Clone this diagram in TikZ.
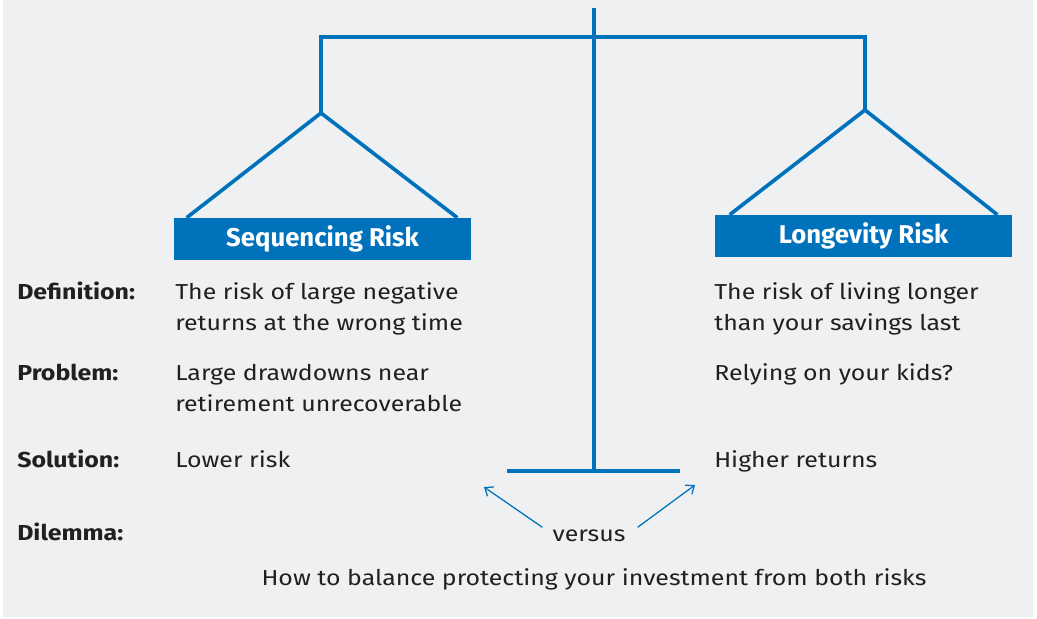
\documentclass[tikz,border=0pt]{standalone}
\usepackage{fontspec}
\setmainfont{Fira Sans}[FakeStretch=1.15]
\newfontfamily\headfont{Fira Sans}
\usetikzlibrary{arrows.meta, positioning, calc}
\definecolor{myblue}{RGB}{0,114,188}
\definecolor{mybg}{RGB}{239,240,242}
\definecolor{mytext}{RGB}{35,31,32}
\tikzset{
  beam/.style={draw=myblue, line width=2.6pt},
  riskbox/.style={rectangle, fill=myblue, text=white,
    minimum width=7.425cm, minimum height=1.05cm, inner sep=0pt,
    font=\headfont\bfseries\fontsize{18.3}{20}\selectfont},
  rowlabel/.style={anchor=base west, inner sep=0pt, text=mytext,
    font=\bfseries\fontsize{15.4}{22}\selectfont},
  bodytext/.style={anchor=base west, inner sep=0pt, text=mytext, align=left,
    font=\fontsize{15.4}{22}\selectfont},
  thinarrow/.style={-{Straight Barb[length=5pt, width=8pt]}, draw=myblue, line width=0.9pt}
}

\begin{document}
\begin{tikzpicture}[x=0.025cm, y=-0.025cm]
  \useasboundingbox (0,0) rectangle (1037,618);
  \fill[mybg] (3,0) rectangle (1033,617);

  % frame of the scale
  \coordinate (top) at (594,8);
  \coordinate (foot) at (594,471);
  \coordinate (beamL) at (321,37);
  \coordinate (beamR) at (865,37);
  \coordinate (apexL) at (321,113);
  \coordinate (apexR) at (865,110);
  \coordinate (baseL) at (507,471);
  \coordinate (baseR) at (680,471);

  \node[riskbox] (seq) at (322.5,239) {Sequencing Risk};
  \node[riskbox] (lon) at (863.5,236) {Longevity Risk};

  \draw[beam] (top) -- (foot);
  \draw[beam] (baseL) -- (baseR);
  \draw[beam] (apexL) -- (beamL) -- (beamR) -- (apexR);
  \draw[beam] ($(seq.north west)+(13,0)$) -- (apexL) -- ($(seq.north east)+(-14,0)$);
  \draw[beam] ($(lon.north west)+(15,0)$) -- (apexR) -- ($(lon.north east)+(-15,0)$);

  % rows
  \node[rowlabel] (def) at (17,299) {Definition:};
  \node[rowlabel] (prob) at (17,380) {Problem:};
  \node[rowlabel] (sol) at (17,467) {Solution:};
  \node[rowlabel] (dil) at (17,540) {Dilemma:};

  \node[bodytext] (defL) at (175,330) {The risk of large negative\\returns at the wrong time};
  \node[bodytext] (probL) at (175,411) {Large drawdowns near\\retirement unrecoverable};
  \node[bodytext] (solL) at (175,467) {Lower risk};
  \node[bodytext] (defR) at (714,330) {The risk of living longer\\than your savings last};
  \node[bodytext] (probR) at (714,380) {Relying on your kids?};
  \node[bodytext] (solR) at (714,467) {Higher returns};

  % dilemma
  \node[bodytext, anchor=base] (vs) at (589,541) {versus};
  \coordinate (tipL) at (484,487);
  \coordinate (tipR) at (695,485);
  \draw[thinarrow] ($(vs.west)+(-10,-8)$) -- (tipL);
  \draw[thinarrow] ($(vs.east)+(12,-8)$) -- (tipR);
  \node[bodytext, anchor=base] (how) at (594,585) {How to balance protecting your investment from both risks};
\end{tikzpicture}
\end{document}
